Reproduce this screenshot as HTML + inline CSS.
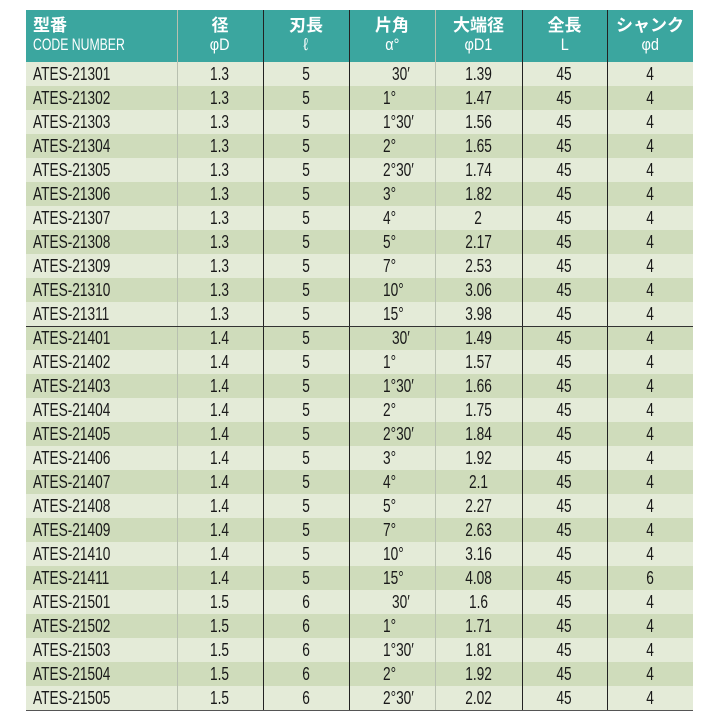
<!DOCTYPE html>
<html><head><meta charset="utf-8"><style>
body{margin:0;width:720px;height:720px;background:#fff;position:relative;overflow:hidden;font-family:"Liberation Sans","Noto Sans CJK JP",sans-serif}
#t{position:absolute;left:26px;top:10px;width:667px;height:700px;border-bottom:1px solid #555}
.h{position:absolute;left:0;top:0;width:667px;height:52px;background:#3ba69f;color:#fff}
.r{position:absolute;left:0;width:667px;height:24px;font-size:18px;color:#1a1a1a}
.l{background:#e4ebd8}.d{background:#cfdcbb}
.c{position:absolute;top:0;height:24px;line-height:24px;text-align:center;white-space:nowrap}
.c span{display:inline-block;transform:scaleX(.76)}
.code{left:7px}.code span{transform-origin:left}
.a{left:357px}.a span{transform-origin:left}
.v{position:absolute;top:0;width:1px;height:700px}
.hc{position:absolute;top:6px;text-align:center;font-size:17px;line-height:19px}
.hc b{font-weight:bold}
.hc span{display:inline-block;transform:scaleX(.85)}
</style></head><body><div id="t">
<div class="h">
<div class="hc" style="left:7px;text-align:left"><b>型番</b><br><span style="transform-origin:left;transform:scaleX(.72)">CODE NUMBER</span></div>
<div class="hc" style="left:151px;width:86px"><b>径</b><br><span>φD</span></div>
<div class="hc" style="left:237px;width:86px"><b>刃長</b><br><span>ℓ</span></div>
<div class="hc" style="left:323px;width:86px"><b>片角</b><br><span>α°</span></div>
<div class="hc" style="left:409px;width:87px"><b>大端径</b><br><span>φD1</span></div>
<div class="hc" style="left:496px;width:85px"><b>全長</b><br><span>L</span></div>
<div class="hc" style="left:581px;width:86px"><b>シャンク</b><br><span>φd</span></div>
</div>
<div id="rows"></div>
<div class="v" style="left:151px;background:#b8c0b0"></div>
<div class="v" style="left:237px;background:#222"></div>
<div class="v" style="left:323px;background:#222"></div>
<div class="v" style="left:409px;background:#b8c0b0"></div>
<div class="v" style="left:496px;background:#222"></div>
<div class="v" style="left:581px;background:#222"></div>
<div style="position:absolute;left:0;top:316px;width:667px;height:1px;background:#333"></div>
</div>
<script>
var d=[
["ATES-21301","1.3","5","30′","1.39","45","4"],
["ATES-21302","1.3","5","1°","1.47","45","4"],
["ATES-21303","1.3","5","1°30′","1.56","45","4"],
["ATES-21304","1.3","5","2°","1.65","45","4"],
["ATES-21305","1.3","5","2°30′","1.74","45","4"],
["ATES-21306","1.3","5","3°","1.82","45","4"],
["ATES-21307","1.3","5","4°","2","45","4"],
["ATES-21308","1.3","5","5°","2.17","45","4"],
["ATES-21309","1.3","5","7°","2.53","45","4"],
["ATES-21310","1.3","5","10°","3.06","45","4"],
["ATES-21311","1.3","5","15°","3.98","45","4"],
["ATES-21401","1.4","5","30′","1.49","45","4"],
["ATES-21402","1.4","5","1°","1.57","45","4"],
["ATES-21403","1.4","5","1°30′","1.66","45","4"],
["ATES-21404","1.4","5","2°","1.75","45","4"],
["ATES-21405","1.4","5","2°30′","1.84","45","4"],
["ATES-21406","1.4","5","3°","1.92","45","4"],
["ATES-21407","1.4","5","4°","2.1","45","4"],
["ATES-21408","1.4","5","5°","2.27","45","4"],
["ATES-21409","1.4","5","7°","2.63","45","4"],
["ATES-21410","1.4","5","10°","3.16","45","4"],
["ATES-21411","1.4","5","15°","4.08","45","6"],
["ATES-21501","1.5","6","30′","1.6","45","4"],
["ATES-21502","1.5","6","1°","1.71","45","4"],
["ATES-21503","1.5","6","1°30′","1.81","45","4"],
["ATES-21504","1.5","6","2°","1.92","45","4"],
["ATES-21505","1.5","6","2°30′","2.02","45","4"]];
var cols=[[151,86],[237,86],[323,86],[409,87],[496,85],[581,86]],h="";
d.forEach(function(r,i){
h+='<div class="r '+(i%2?'d':'l')+'" style="top:'+(52+i*24)+'px">';
h+='<div class="c code"><span>'+r[0]+'</span></div>';
for(var k=1;k<7;k++){
 if(k==3){h+='<div class="c a" style="left:'+(r[3]=="30′"?366:357)+'px"><span>'+r[3]+'</span></div>';}
 else h+='<div class="c" style="left:'+cols[k-1][0]+'px;width:'+cols[k-1][1]+'px"><span>'+r[k]+'</span></div>';
}
h+='</div>';});
document.getElementById("rows").innerHTML=h;
</script>
</body></html>
